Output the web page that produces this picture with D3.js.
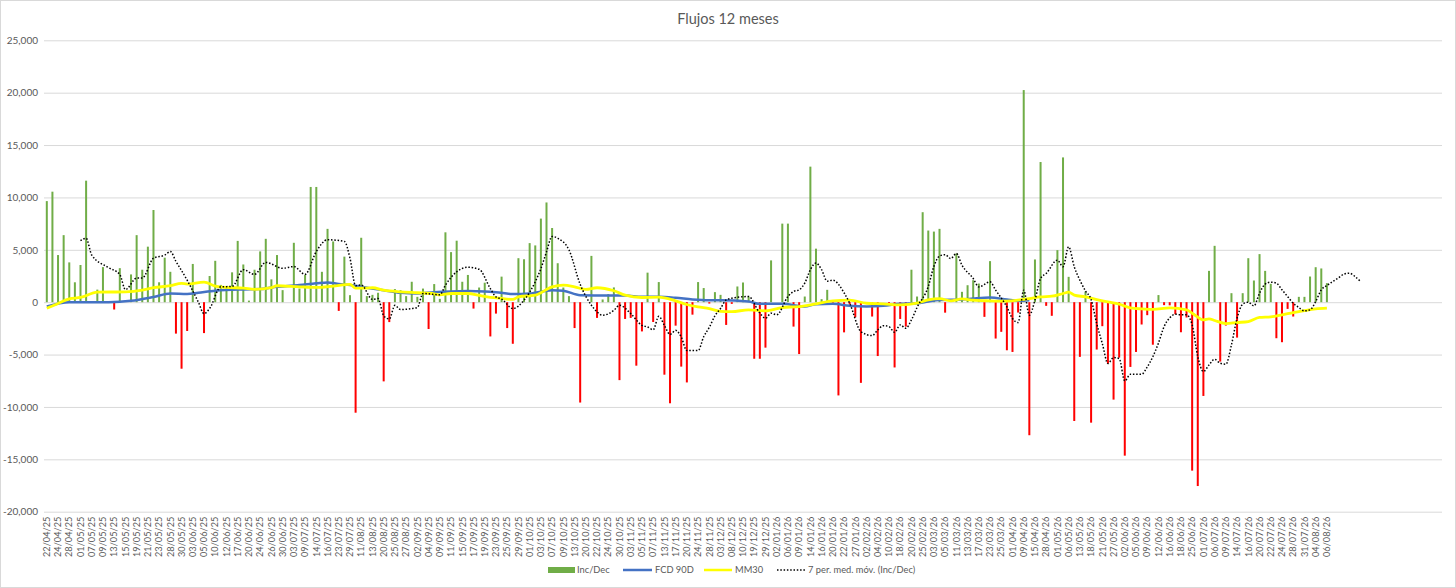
<!DOCTYPE html>
<html><head><meta charset="utf-8">
<script src="https://cdn.jsdelivr.net/npm/d3@7"></script>
<style>
body{margin:0;background:#fff}
svg{display:block}
text{font-family:Lato,"Open Sans",sans-serif;fill:#595959}
</style>
</head><body>
<svg id="chart" width="1456" height="588"></svg>
<script>
// ---------- DATA ----------
const title = "Flujos 12 meses";
const dateLabels = ["22/04/25","24/04/25","28/04/25","01/05/25","07/05/25","09/05/25","13/05/25","15/05/25","19/05/25","21/05/25","23/05/25","28/05/25","30/05/25","03/06/25","05/06/25","10/06/25","12/06/25","17/06/25","20/06/25","24/06/25","26/06/25","30/06/25","03/07/25","09/07/25","14/07/25","16/07/25","23/07/25","29/07/25","11/08/25","13/08/25","20/08/25","25/08/25","27/08/25","02/09/25","04/09/25","09/09/25","11/09/25","15/09/25","17/09/25","19/09/25","23/09/25",
"25/09/25","29/09/25","01/10/25","03/10/25","07/10/25","09/10/25","13/10/25","20/10/25","22/10/25","24/10/25","30/10/25","03/11/25","05/11/25","07/11/25","13/11/25","17/11/25","20/11/25","24/11/25","28/11/25","03/12/25","08/12/25","10/12/25","19/12/25","29/12/25","02/01/26","06/01/26","09/01/26","14/01/26","16/01/26","20/01/26","22/01/26","27/01/26","02/02/26","04/02/26","10/02/26","18/02/26","20/02/26","25/02/26","03/03/26","05/03/26","11/03/26","13/03/26","17/03/26",
"23/03/26","25/03/26","01/04/26","09/04/26","15/04/26","28/04/26","01/05/26","06/05/26","13/05/26","18/05/26","21/05/26","27/05/26","02/06/26","05/06/26","09/06/26","12/06/26","16/06/26","18/06/26","25/06/26","01/07/26","06/07/26","09/07/26","14/07/26","16/07/26","20/07/26","22/07/26","24/07/26","28/07/26","31/07/26","04/08/26","06/08/26"];
const trailingBlankCats = 19;

// Inc/Dec daily values (one per category, starting at 22/04/25)
const incDec = [9650,10550,4500,6400,3800,1900,3550,11600,0,1200,
3350,0,-700,3250,0,2650,6400,3100,5300,8800,
1900,4250,2900,-3000,-6350,-2750,3650,0,-2950,2500,
3950,1650,1550,2850,5850,3600,150,3100,4850,6050,
2180,4500,1150,0,5670,1300,2600,11000,11000,2900,
7000,5800,-830,4350,670,-10550,6150,580,700,900,
-7560,-1900,1250,1150,580,1950,510,1300,-2560,1730,
320,6670,4780,5870,1950,2600,-610,1400,1860,-3270,
-1090,2440,-2470,-3970,4200,4100,5640,5420,7980,9520,
7080,3720,1400,580,-2470,-9580,0,4420,-1500,260,
770,1410,-7440,-1600,-1500,-6060,-2790,2820,-1890,1920,
-6920,-9650,-2240,-6150,-7660,-1190,1920,1350,-130,960,
700,-2170,-160,1500,1880,540,-5400,-5400,-4340,3990,
0,7500,7500,-2330,-4950,540,12940,5110,290,1180,
-220,-8900,-2880,-200,-1440,-7700,0,-1370,-5140,0,
-200,-6230,-1600,-2330,3100,540,8590,6840,6740,7000,
-1000,0,4650,990,1620,2100,1780,-1400,3920,-3470,
-2830,-4590,-4750,-990,20250,-12700,4080,13380,-350,-1300,
4970,13820,2420,-11340,-5220,1020,-11500,-4520,-2290,-5860,
-9300,-5290,-14650,-6180,-4750,-2130,-1240,-4060,680,-280,
-300,-1150,-2870,-1460,-16080,-17550,-8950,2990,5380,-5670,
-2230,860,-3380,860,4200,2070,4590,2990,1750,-3440,
-3820,-640,-1370,510,510,2450,3340,3220,1820];

// FCD 90D : [category index, value]
const fcd90 = [[0,-400],[4,0],[11,0],[15,130],[19,500],[22,830],[25,770],[27,900],[30,1100],[35,1220],[38,1250],[40,1400],[45,1630],[48,1800],[50,1890],[52,1730],[54,1630],[57,1380],[60,1150],[63,900],[66,830],[69,960],[72,1030],[75,1060],[78,1030],[80,960],[83,770],[86,830],[90,1150],[92,1090],[95,670],[100,640],[103,640],[106,510],[109,510],[112,420],[115,260],[118,190],[120,190],[125,60],[127,-160],[131,-160],[135,-415],[137,-190],[140,-160],[143,-350],[146,-415],[149,-350],[152,-160],[155,-100],[157,60],[159,200],[163,255],[165,350],[168,450],[171,255],[173,130],[175,190]];

// MM30 : [category index, value]
const mm30 = [[0,-580],[2,-130],[4,320],[6,450],[9,960],[14,990],[17,1150],[19,1380],[22,1570],[24,1800],[25,1730],[28,1920],[30,1540],[32,1410],[35,1350],[37,1220],[40,1380],[41,1570],[45,1470],[48,1410],[51,1540],[54,1700],[55,1350],[57,1350],[58,1380],[60,1150],[63,990],[66,900],[69,800],[70,700],[72,830],[75,830],[77,640],[79,450],[80,420],[83,260],[84,510],[87,670],[90,1470],[92,1630],[94,1470],[96,1220],[98,1380],[101,1090],[103,670],[106,450],[109,480],[112,130],[114,-220],[116,-450],[118,-610],[120,-870],[122,-900],[125,-735],[128,-830],[131,-510],[134,-415],[137,-160],[140,130],[143,190],[146,-100],[149,-160],[152,-255],[155,-100],[157,220],[159,340],[161,130],[163,320],[165,190],[168,130],[171,100],[175,350],[177,510],[179,570],[181,830],[182,955],[183,670],[185,510],[187,255],[189,30],[191,-190],[193,-540],[195,-640],[197,-690],[200,-540],[203,-730],[204,-1050],[206,-1690],[207,-1590],[208,-1750],[210,-2040],[212,-1940],[214,-1850],[216,-1460],[218,-1400],[220,-1210],[222,-990],[224,-800],[226,-640],[228,-570]];

// 7 per. med. móv. (Inc/Dec) : [category index, value]
const ma7 = [[6,5870],[7,6100],[8,4500],[11,3300],[13,2650],[14,1200],[16,2300],[17,2300],[19,4200],[21,4500],[22,4840],[23,3900],[25,2100],[27,0],[28,-1100],[29,-600],[31,1470],[33,1500],[35,3100],[37,2650],[39,3800],[42,3240],[44,3400],[46,2660],[48,4840],[50,5960],[53,5800],[54,4200],[55,1570],[56,1650],[58,260],[59,350],[60,-1300],[61,-1600],[62,-300],[63,-700],[66,-510],[67,830],[70,700],[71,1630],[73,2900],[75,3330],[77,3140],[79,1300],[80,500],[81,300],[83,-610],[85,190],[87,1950],[88,3200],[89,4800],[90,6280],[91,6100],[93,5000],[95,1700],[97,-290],[98,-930],[99,-1250],[101,-770],[102,-290],[104,-1090],[106,-2210],[107,-2370],[108,-2630],[109,-1350],[110,-2210],[111,-3080],[112,-2690],[113,-3330],[114,-4620],[116,-4620],[117,-3300],[118,-2400],[119,-1300],[120,-600],[121,220],[122,380],[125,540],[127,-1050],[128,-1530],[129,-1050],[130,-1210],[132,540],[133,1020],[134,1180],[135,1820],[136,3100],[137,3740],[138,3100],[139,2000],[140,2100],[142,900],[143,-100],[145,-2810],[147,-3190],[148,-2650],[149,-2240],[150,-2330],[151,-2880],[152,-2170],[153,-2490],[154,-1690],[155,-500],[157,1500],[158,3420],[159,4400],[160,4540],[161,4170],[162,4650],[163,3540],[165,2260],[166,1460],[168,1940],[169,1150],[171,-450],[172,-1560],[173,-1940],[174,1150],[175,-1240],[176,190],[177,2260],[178,2740],[180,4010],[181,3380],[182,5290],[183,3380],[184,2100],[185,1080],[186,255],[187,-2040],[188,-3950],[189,-5860],[190,-5290],[191,-5380],[192,-7520],[193,-6880],[194,-6880],[195,-6880],[196,-6180],[197,-5200],[198,-3900],[199,-2330],[200,-1500],[201,-1150],[202,-1210],[203,-1210],[204,-2170],[205,-5190],[206,-6620],[207,-5990],[208,-5450],[209,-5830],[210,-5920],[211,-4080],[212,-1530],[213,-190],[214,0],[215,-350],[216,860],[217,1720],[218,1910],[219,1820],[220,1180],[221,540],[222,-100],[223,-510],[224,-830],[225,-730],[226,60],[227,1180],[228,1590],[229,1970],[230,2290],[231,2670],[232,2770],[233,2450],[234,1970]];

const yTicks = [-20000,-15000,-10000,-5000,0,5000,10000,15000,20000,25000];
const legendItems = ["Inc/Dec","FCD 90D","MM30","7 per. med. móv. (Inc/Dec)"];

// ---------- CHART ----------
const svg = d3.select("#chart");
const W = 1456, H = 588;
const plot = {left:44, right:1442, top:40.3, bottom:511.7};

const categories = [];
dateLabels.forEach(d => { categories.push(d); categories.push(""); });
for (let i = 0; i < trailingBlankCats; i++) categories.push("");

const x = d3.scaleBand().domain(d3.range(categories.length)).range([plot.left, plot.right]).paddingInner(0).paddingOuter(0);
const xc = i => x(i) + x.bandwidth()/2;
const y = d3.scaleLinear().domain([-20000, 25000]).range([plot.bottom, plot.top]);

// outer border
svg.append("rect").attr("x",0.5).attr("y",0.5).attr("width",W-1).attr("height",H-1)
  .attr("fill","#fff").attr("stroke","#d9d9d9");

// title
svg.append("text").attr("x",728).attr("y",23.5).attr("text-anchor","middle")
  .style("font-size","14.5px").text(title);

// gridlines + y labels
const fmt = v => d3.format(",")(v).replace("\u2212","-");
const yAxis = d3.axisLeft(y).tickValues(yTicks).tickSize(-(plot.right-plot.left)).tickPadding(6).tickFormat(fmt);
const gy = svg.append("g").attr("transform",`translate(${plot.left},0)`).call(yAxis);
gy.select(".domain").remove();
gy.selectAll(".tick line").attr("stroke","#d9d9d9").attr("stroke-width",1);
gy.selectAll(".tick text").attr("fill","#595959").style("font-size","10px").style("font-family","Lato,'Open Sans',sans-serif");

// x labels
const xAxis = d3.axisBottom(x).tickValues(d3.range(0, dateLabels.length*2, 2)).tickSize(0).tickFormat(i => categories[i]);
const gx = svg.append("g").attr("transform",`translate(0,${plot.bottom})`).call(xAxis);
gx.select(".domain").remove();
gx.selectAll(".tick text")
  .attr("fill","#595959").style("font-size","9.2px").style("font-family","Lato,'Open Sans',sans-serif")
  .attr("text-anchor","end").attr("transform","rotate(-90)")
  .attr("x",-5).attr("y",0).attr("dy","0.35em");

// bars
const bw = 2;
svg.append("g").selectAll("rect").data(incDec).join("rect")
  .attr("x",(d,i)=>xc(i)-bw/2).attr("width",bw)
  .attr("y",d=>d>=0?y(d):y(0))
  .attr("height",d=>Math.abs(y(d)-y(0)))
  .attr("fill",d=>d>=0?"#70AD47":"#FF0000");

// lines
const line = d3.line().x(d=>xc(d[0])).y(d=>y(d[1])).curve(d3.curveMonotoneX);
svg.append("path").datum(fcd90).attr("d",line).attr("fill","none").attr("stroke","#4472C4").attr("stroke-width",2.5);
svg.append("path").datum(mm30).attr("d",line).attr("fill","none").attr("stroke","#FFFF00").attr("stroke-width",2.8);
svg.append("path").datum(ma7).attr("d",line).attr("fill","none").attr("stroke","#000").attr("stroke-width",1.5)
  .attr("stroke-dasharray","1.5,1.8");

// legend
const lg = svg.append("g");
const ly = 570;
const legendX = [548, 623, 704, 777];
lg.append("rect").attr("x",legendX[0]).attr("y",ly-3).attr("width",27).attr("height",6).attr("fill","#70AD47");
lg.append("line").attr("x1",legendX[1]).attr("x2",legendX[1]+29).attr("y1",ly).attr("y2",ly).attr("stroke","#4472C4").attr("stroke-width",2.5);
lg.append("line").attr("x1",legendX[2]).attr("x2",legendX[2]+28).attr("y1",ly).attr("y2",ly).attr("stroke","#FFFF00").attr("stroke-width",2.5);
lg.append("line").attr("x1",legendX[3]).attr("x2",legendX[3]+28).attr("y1",ly).attr("y2",ly).attr("stroke","#000").attr("stroke-width",1.5).attr("stroke-dasharray","1.5,1.8");
const textX = [577, 655, 735, 808];
legendItems.forEach((t,i)=>{
  lg.append("text").attr("x",textX[i]).attr("y",ly).attr("dy","0.35em").style("font-size","9.3px").text(t);
});
</script>
</body></html>
